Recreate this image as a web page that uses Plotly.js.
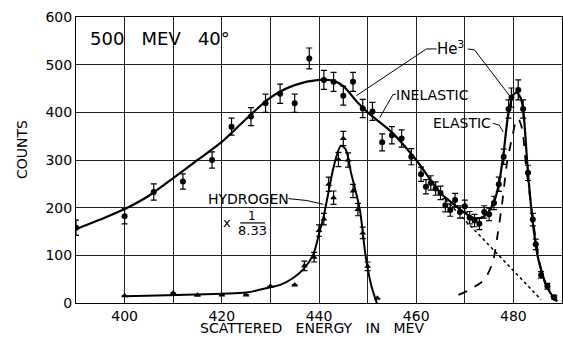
<!DOCTYPE html>
<html><head><meta charset="utf-8">
<script src="https://cdn.plot.ly/plotly-3.0.1.min.js"></script>
<style>body{margin:0;background:#fff}#c{width:563px;height:339px}</style>
</head><body><div id="c"></div>
<script>
// He3 data (circles with error bars)
const he3E = [390,400,406,412,418,422,426,429,432,435,438,441,443,445,447,449,451,453,455,457,459,461,462,463,464,465,466,467,468,469,470,471,472,473,474,475,476,477,478,479,479.6,481,482,483,484,484.6,485.7,487,488.4];
const he3C = [158,182,233,255,300,370,391,419,439,419,513,468,464,435,464,408,402,337,352,345,307,270,244,252,240,231,205,195,216,191,203,179,173,166,191,186,210,249,307,407,431,447,407,273,175,123,59,35,12];
const he3Err = [16,16,17,16,17,18,19,19,20,19,22,20,20,20,20,19,19,18,18,18,17,15,15,15,14,14,14,13,14,13,13,13,13,12,13,13,14,15,16,19,20,21,19,16,13,11,7,6,4];
// Hydrogen data (triangles), scaled x 1/8.33
const hE = [400,410,415,420,425,430,435,437,439,440,441,442,443,444,445,446,447,448,449,450,452];
const hC = [15,21,16,17,17,35,38,78,96,152,176,249,221,301,345,300,235,196,147,77,10];
const hErr = [0,0,0,0,0,0,0,10,10,12,12,15,14,15,15,15,14,13,12,9,0];
// Fitted total curve (He3)
const fitE = [390,395,400,405,410,415,420,425,430,435,440,443,445,448,450,455,460,465,468,470,472,474,476,477,478,479,480,480.7,481.5,482,483,484,485,486,487,488,489];
const fitC = [155,175,197,225,262,300,338,386,431,457,468,466,455,420,400,358,300,231,205,189,178,182,212,249,316,400,437,441,430,407,273,168,98,59,32,15,3];
// Inelastic extension (dotted)
const inelE = [466,485.7];
const inelC = [217,7];
// Elastic curve (dashed)
const elE = [468.7,471,474,475.7,476.7,477.7,478.7,479.8,480.6,481,481.8,482.6,483.5,484.5,485.5,486.5,487.5,488.5];
const elC = [17,28,49,84,140,210,295,350,384,387,365,287,217,140,80,42,18,5];
// Hydrogen fitted curve
const hFitE = [400,411,425,430,432,434.6,436.7,438.8,440,440.9,442,443,444.5,445.5,446.6,448.4,449.6,450.8,451.9];
const hFitC = [14,17,22,33,38,52,70,101,145,179,235,285,330,322,273,196,98,35,0];
// Axis ticks
const xTickVals = [400,420,440,460,480];
const xTickText = ['400','420','440','460','480'];
const xMinorVals = [410,430,450,470];
const yTickVals = [0,100,200,300,400,500,600];
const yTickText = ['0','100','200','300','400','500','600'];

const F = 'DejaVu Sans, sans-serif';
const NB = '\u00A0';
const G = NB+NB+NB;
const traces = [
  {x: fitE, y: fitC, mode:'lines', line:{color:'#000', width:2.2, shape:'spline', smoothing:0.8}, hoverinfo:'skip'},
  {x: inelE, y: inelC, mode:'lines', line:{color:'#000', width:1.5, dash:'dot'}, hoverinfo:'skip'},
  {x: elE, y: elC, mode:'lines', line:{color:'#000', width:1.8, dash:'dash', shape:'spline', smoothing:0.8}, hoverinfo:'skip'},
  {x: hFitE, y: hFitC, mode:'lines', line:{color:'#000', width:2, shape:'spline', smoothing:0.8}, hoverinfo:'skip'},
  {x: he3E, y: he3C, mode:'markers', marker:{symbol:'circle', size:6, color:'#000'},
   error_y:{type:'data', array: he3Err, visible:true, color:'#000', thickness:1.2, width:3}},
  {x: hE, y: hC, mode:'markers', marker:{symbol:'triangle-up', size:6, color:'#000'},
   error_y:{type:'data', array: hErr, visible:true, color:'#000', thickness:1.2, width:3}}
];
const ann = (x,y,text,size,extra) => Object.assign({x:x, y:y, xref:'x', yref:'y', text:text, showarrow:false, font:{family:F, size:size, color:'#000'}}, extra||{});
const lead = (path) => ({type:'path', xref:'x', yref:'y', path:path, line:{color:'#000', width:1}});
const layout = {
  width:563, height:339, margin:{l:76, r:1, t:17, b:36},
  paper_bgcolor:'#fff', plot_bgcolor:'#fff', showlegend:false,
  font:{family:F, color:'#000'},
  xaxis:{range:[390,490], tickvals:xTickVals, ticktext:xTickText, showgrid:true, gridcolor:'#222', gridwidth:1,
    minor:{tickvals:xMinorVals, showgrid:true, gridcolor:'#222', gridwidth:1, ticks:''},
    showline:true, linecolor:'#000', linewidth:1, mirror:true, zeroline:false, ticks:'', tickfont:{family:F, size:14}},
  yaxis:{range:[0,600], tickvals:yTickVals, ticktext:yTickText, showgrid:true, gridcolor:'#222', gridwidth:1,
    showline:true, linecolor:'#000', linewidth:1, mirror:true, zeroline:false, ticks:'', tickfont:{family:F, size:14}},
  annotations:[
    {x:-0.111, y:0.535, xref:'paper', yref:'paper', text:'COUNTS', textangle:-90, showarrow:false,
     xanchor:'center', yanchor:'middle', font:{family:F, size:14, color:'#000'}},
    {x:0.486, y:-0.124, xref:'paper', yref:'paper', text:'SCATTERED'+G+'ENERGY'+G+'IN'+G+'MEV', showarrow:false,
     xanchor:'center', yanchor:'bottom', font:{family:F, size:14, color:'#000'}},
    ann(407.2, 554, '500'+G+'MEV'+G+'40°', 18),
    ann(467, 535, 'He<sup>3</sup>', 15),
    ann(463.3, 436, 'INELASTIC', 14),
    ann(469.5, 377, 'ELASTIC', 14),
    ann(425.4, 219, 'HYDROGEN', 14),
    ann(421.1, 168, 'x', 13),
    ann(426.3, 183, '1', 12),
    ann(426.3, 153, '8.33', 13)
  ],
  shapes:[
    lead('M 464.2,533 L 462.1,533 L 447.7,435'),
    lead('M 470.6,533 L 472,531 L 479.5,431'),
    lead('M 455.8,438 L 455.2,437 L 452.5,389'),
    lead('M 475.8,377 L 477.1,373 L 477.9,359'),
    lead('M 433.7,219 L 437.5,215 L 440.9,207'),
    {type:'line', xref:'x', yref:'y', x0:423.8, x1:428.9, y0:168, y1:168, line:{color:'#000', width:1.2}}
  ]
};
Plotly.newPlot('c', traces, layout, {staticPlot:true, displayModeBar:false});
</script></body></html>
